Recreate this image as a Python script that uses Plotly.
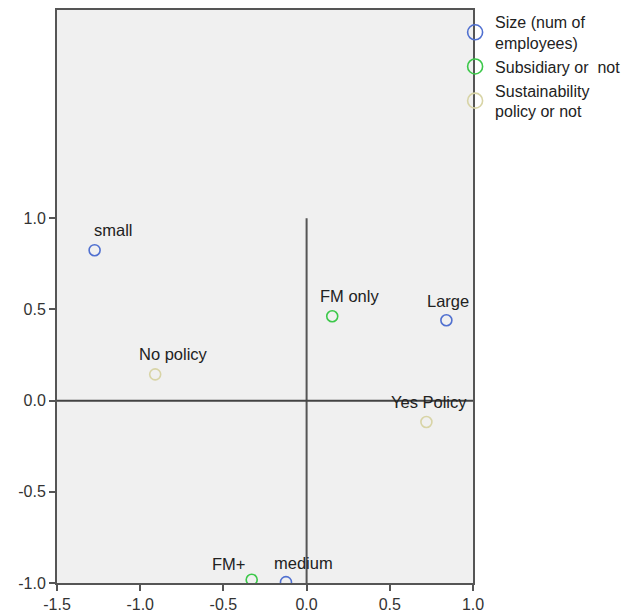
import plotly.graph_objects as go

# Data
size_labels = ["small", "medium", "Large"]
size_x = [-1.274, -0.124, 0.84]
size_y = [0.825, -0.995, 0.441]

sub_labels = ["FM only", "FM+"]
sub_x = [0.154, -0.33]
sub_y = [0.463, -0.982]

pol_labels = ["No policy", "Yes Policy"]
pol_x = [-0.91, 0.72]
pol_y = [0.144, -0.117]

legend_names = ["Size (num of<br>employees)", "Subsidiary or  not", "Sustainability<br>policy or not"]
colors = ["#5070d0", "#3cc84a", "#d8d4a6"]

# label offsets in pixels (style)
offsets = {
    "small": (19, 20), "medium": (18, 19), "Large": (2, 19),
    "FM only": (17, 20), "FM+": (-23, 16),
    "No policy": (18, 20), "Yes Policy": (3, 20),
}

FONT = "Liberation Sans, Arial, sans-serif"
fig = go.Figure()

groups = [(size_labels, size_x, size_y), (sub_labels, sub_x, sub_y), (pol_labels, pol_x, pol_y)]
for (labs, xs, ys), name, col in zip(groups, legend_names, colors):
    fig.add_trace(go.Scatter(
        x=xs, y=ys, mode="markers", showlegend=False,
        marker=dict(symbol="circle-open", size=11, color=col, line=dict(width=1.6, color=col)),
        cliponaxis=True, hoverinfo="skip"))
    fig.add_trace(go.Scatter(
        x=[None], y=[None], mode="markers", name=name, showlegend=True,
        marker=dict(symbol="circle-open", size=15, color=col, line=dict(width=1.6, color=col))))
    for lab, xv, yv in zip(labs, xs, ys):
        dx, dy = offsets[lab]
        fig.add_annotation(x=xv, y=yv, text=lab, showarrow=False, xshift=dx, yshift=dy,
                           xanchor="center", yanchor="middle",
                           font=dict(family=FONT, size=16.5, color="#222222"))

fig.add_shape(type="line", x0=0, x1=0, y0=-1.0, y1=1.0, xref="x", yref="y",
              line=dict(color="#555555", width=2), layer="below")
fig.add_shape(type="line", x0=-1.5, x1=1.0, y0=0, y1=0, xref="x", yref="y",
              line=dict(color="#444444", width=2), layer="below")

fig.update_xaxes(range=[-1.5, 1.0], tickvals=[-1.5, -1.0, -0.5, 0.0, 0.5, 1.0],
                 ticktext=["-1.5", "-1.0", "-0.5", "0.0", "0.5", "1.0"],
                 showgrid=False, zeroline=False, showline=True, linecolor="#555555", linewidth=2,
                 mirror=True, ticks="outside", ticklen=6, tickwidth=2, tickcolor="#555555",
                 tickfont=dict(family=FONT, size=16, color="#333333"), automargin=False)
fig.update_yaxes(range=[-1.0, 2.142], tickvals=[-1.0, -0.5, 0.0, 0.5, 1.0],
                 ticktext=["-1.0", "-0.5", "0.0", "0.5", "1.0"],
                 showgrid=False, zeroline=False, showline=True, linecolor="#555555", linewidth=2,
                 mirror=True, ticks="outside", ticklen=6, tickwidth=2, tickcolor="#555555",
                 tickfont=dict(family=FONT, size=16, color="#333333"), automargin=False)

fig.update_layout(
    width=622, height=607,
    margin=dict(l=49, r=157, t=2, b=32, autoexpand=False),
    plot_bgcolor="#f0f0f0", paper_bgcolor="white",
    legend=dict(x=0.957, xanchor="left", y=1.0088, yanchor="top",
                font=dict(family=FONT, size=16, color="#222222"),
                bgcolor="rgba(0,0,0,0)", tracegroupgap=0, itemwidth=30),
)

fig.write_html("out.html")
